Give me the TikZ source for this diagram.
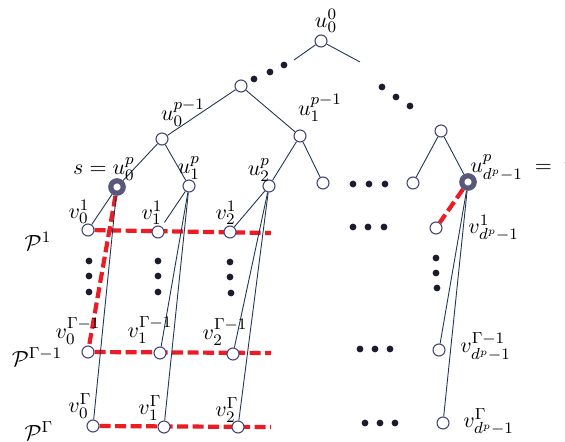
\documentclass[tikz,border=0pt]{standalone}
\usetikzlibrary{backgrounds}
\definecolor{vcol}{RGB}{70,70,120}
\definecolor{tcol}{RGB}{88,88,122}
\definecolor{ecol}{RGB}{35,55,85}
\definecolor{rcol}{RGB}{236,28,36}
\definecolor{dcol}{RGB}{28,28,48}
\begin{document}
\begin{tikzpicture}[x=0.5pt,y=-0.5pt,font=\fontsize{11}{13}\selectfont,
  vtx/.style={circle,draw=vcol,fill=white,line width=0.55pt,minimum size=6pt,inner sep=0pt},
  term/.style={circle,draw=tcol,fill=white,line width=2.6pt,minimum size=6.2pt,inner sep=0pt},
  edge/.style={draw=ecol,line width=0.45pt},
  redpath/.style={draw=rcol,line width=2.1pt,dash pattern=on 5.5pt off 2.25pt},
  dotn/.style={circle,fill=dcol,minimum size=3.4pt,inner sep=0pt},
  lbl/.style={inner sep=0pt}]
\useasboundingbox (0,0) rectangle (565,442);
% tree nodes
\node[vtx] (r0) at (321,41) {};
\node[vtx] (a) at (241,86) {};
\node[vtx] (b) at (162,139) {};
\node[vtx] (c) at (300,136) {};
\node[vtx] (d) at (441,131) {};
\node[term] (s) at (117,187) {};
\node[vtx] (u1) at (189,186) {};
\node[vtx] (u2) at (269,186) {};
\node[vtx] (x1) at (323,183) {};
\node[vtx] (x2) at (413,183) {};
\node[term] (t) at (468,182) {};
% layer nodes
\node[vtx] (v01) at (88,230) {};
\node[vtx] (v11) at (158,232) {};
\node[vtx] (v21) at (230,232) {};
\node[vtx] (vd1) at (436,228) {};
\node[vtx] (v0G1) at (88,352) {};
\node[vtx] (v1G1) at (160,353) {};
\node[vtx] (v2G1) at (233,354) {};
\node[vtx] (vdG1) at (439,350) {};
\node[vtx] (v0G) at (93,426) {};
\node[vtx] (v1G) at (164,427) {};
\node[vtx] (v2G) at (238,427) {};
\node[vtx] (vdG) at (443,423) {};
% free ends
\coordinate (e1) at (294,60);
\coordinate (e2) at (360,62);
\coordinate (p1end) at (271,233);
\coordinate (p2end) at (271,353);
\coordinate (p3end) at (271,427);
\begin{scope}[on background layer]
  \draw[redpath] (v01) -- (p1end);
  \draw[redpath] (v0G1) -- (p2end);
  \draw[redpath] (v0G) -- (p3end);
  \draw[redpath] (s) -- (v0G1);
  \draw[redpath] (t) -- (vd1);
  \draw[edge] (r0) -- (e1);
  \draw[edge] (r0) -- (e2);
  \draw[edge] (a) -- (b);
  \draw[edge] (a) -- (c);
  \draw[edge] (b) -- (s);
  \draw[edge] (b) -- (u1);
  \draw[edge] (c) -- (u2);
  \draw[edge] (c) -- (x1);
  \draw[edge] (d) -- (x2);
  \draw[edge] (d) -- (t);
  \draw[edge] (s) -- (v01);
  \draw[edge] (s) -- (v0G);
  \draw[edge,shorten >=2.5pt] (u1) -- (v11);
  \draw[edge] (u1) -- (v1G1);
  \draw[edge] (u1) -- (v1G);
  \draw[edge] (u2) -- (v21);
  \draw[edge] (u2) -- (v2G1);
  \draw[edge] (u2) -- (v2G);
  \draw[edge] (t) -- (vdG1);
  \draw[edge] (t) -- (vdG);
\end{scope}
% dots
\foreach \n/\x/\y in {tl1/284/65,tl2/270/72,tl3/254/79,
  tr1/382/87,tr2/396/97,tr3/410/106,
  ra1/353/184,ra2/369/184,ra3/385/184,
  rb1/353/227,rb2/368/227,rb3/384/227,
  ca1/89/261,ca2/89/276,ca3/89/292,
  cb1/158/261,cb2/158/276,cb3/158/292,
  cc1/230/262,cc2/230/277,cc3/231/293,
  cd1/436/258,cd2/436/273,cd3/437/288,
  rc1/360/349,rc2/375/349,rc3/390/349,
  rd1/365/423,rd2/380/423,rd3/395/423}
  \node[dotn] (dot\n) at (\x,\y) {};
% labels
\node[lbl] (Lr0) at (326,21) {$u_0^0$};
\node[lbl] (Lb) at (183,113) {$u_0^{p-1}$};
\node[lbl] (Lc) at (320,108) {$u_1^{p-1}$};
\node[lbl] (Ls) at (104,169) {$s=u_0^p$};
\node[lbl] (Lu1) at (189,168) {$u_1^p$};
\node[lbl] (Lu2) at (259,170) {$u_2^p$};
\node[lbl,anchor=west] (Lt) at (470,168) {$u_{d^p-1}^p\;=\;t$};
\node[lbl] (Lv01) at (79,212) {$v_0^1$};
\node[lbl] (Lv11) at (152,213) {$v_1^1$};
\node[lbl] (Lv21) at (226,213) {$v_2^1$};
\node[lbl,anchor=west] (Lvd1) at (468,228) {$v_{d^p-1}^1$};
\node[lbl] (Lv0G1) at (78,331) {$v_0^{\Gamma-1}$};
\node[lbl] (Lv1G1) at (150,330) {$v_1^{\Gamma-1}$};
\node[lbl] (Lv2G1) at (225,332) {$v_2^{\Gamma-1}$};
\node[lbl,anchor=west] (LvdG1) at (460,347) {$v_{d^p-1}^{\Gamma-1}$};
\node[lbl] (Lv0G) at (80,406) {$v_0^{\Gamma}$};
\node[lbl] (Lv1G) at (150,408) {$v_1^{\Gamma}$};
\node[lbl] (Lv2G) at (227,410) {$v_2^{\Gamma}$};
\node[lbl,anchor=west] (LvdG) at (463,422) {$v_{d^p-1}^{\Gamma}$};
\node[lbl] (P1) at (38,241) {$\mathcal{P}^1$};
\node[lbl] (P2) at (37,357) {$\mathcal{P}^{\Gamma-1}$};
\node[lbl] (P3) at (39,431) {$\mathcal{P}^{\Gamma}$};
\end{tikzpicture}
\end{document}
